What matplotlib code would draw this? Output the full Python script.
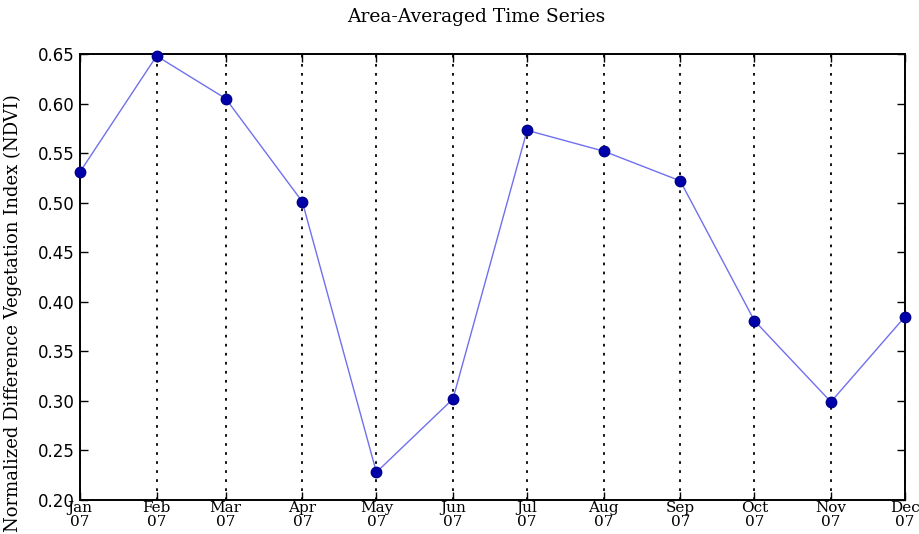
import matplotlib
matplotlib.use("Agg")
import matplotlib.pyplot as plt
import datetime as dt

months = ["Jan", "Feb", "Mar", "Apr", "May", "Jun", "Jul", "Aug", "Sep", "Oct", "Nov", "Dec"]
year_label = "07"
ndvi = [0.531, 0.648, 0.605, 0.501, 0.228, 0.302, 0.573, 0.552, 0.522, 0.381, 0.299, 0.385]
yticks = [0.20, 0.25, 0.30, 0.35, 0.40, 0.45, 0.50, 0.55, 0.60, 0.65]

dates = [dt.date(2007, i + 1, 1) for i in range(12)]
tick_labels = [f"{m}\n{year_label}" for m in months]

plt.rcParams['font.family'] = ['DejaVu Serif']
fig = plt.figure(figsize=(9.2, 5.34), dpi=100)
ax = fig.add_axes([80/920, 34/534, 825/920, 446/534])

ax.plot(dates, ndvi, color='#7070ee', lw=1.0, zorder=3)
ax.plot(dates, ndvi, 'o', color='#0000aa', ms=7.5, mec='#00008b', zorder=4, clip_on=False)

ax.set_xlim(dates[0], dates[-1])
ax.set_ylim(0.20, 0.65)
ax.set_xticks(dates)
ax.set_xticklabels(tick_labels, fontsize=11, linespacing=1.0)
ax.set_yticks(yticks)
ax.set_yticklabels([f"{v:.2f}" for v in yticks], fontsize=12, family='DejaVu Sans')
ax.tick_params(direction='in', length=6, top=True, right=True, width=1, pad=1)
ax.tick_params(axis='y', pad=4)
ax.xaxis.grid(True, linestyle=(0, (1.5, 3.5)), color='black', lw=1.3)
for s in ax.spines.values():
    s.set_linewidth(1.4)

ax.set_ylabel("Normalized Difference Vegetation Index (NDVI)", fontsize=13)
ax.yaxis.set_label_coords(-0.07, 0.42)
fig.text(476/920, 1 - 17/534, "Area-Averaged Time Series", ha='center', va='center', fontsize=13.5)

fig.savefig("out.png", dpi=100)
